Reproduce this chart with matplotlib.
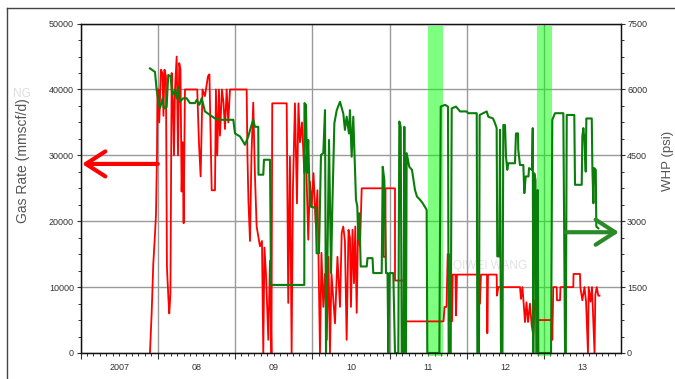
import matplotlib
matplotlib.use("Agg")
import matplotlib.pyplot as plt
import matplotlib.transforms as mtransforms
from matplotlib.lines import Line2D
from matplotlib.ticker import MultipleLocator, NullFormatter

# gas rate trace (decimal year, mmscf/d)
gas_years = [
    2007.899, 2007.921, 2007.942, 2007.964, 2007.977, 2007.990, 2007.996, 2008.009,
    2008.019, 2008.032, 2008.041, 2008.061, 2008.074, 2008.087, 2008.106, 2008.119,
    2008.139, 2008.149, 2008.164, 2008.180, 2008.197, 2008.210, 2008.223, 2008.245,
    2008.262, 2008.278, 2008.294, 2008.309, 2008.322, 2008.335, 2008.352, 2008.511,
    2008.533, 2008.555, 2008.579, 2008.611, 2008.650, 2008.669, 2008.698, 2008.741,
    2008.753, 2008.770, 2008.792, 2008.805, 2008.831, 2008.851, 2008.870, 2008.892,
    2008.913, 2008.935, 2009.151, 2009.161, 2009.174, 2009.194, 2009.213, 2009.236,
    2009.258, 2009.280, 2009.323, 2009.349, 2009.366, 2009.381, 2009.401, 2009.431,
    2009.453, 2009.472, 2009.482, 2009.669, 2009.689, 2009.711, 2009.733, 2009.750,
    2009.776, 2009.802, 2009.821, 2009.841, 2009.867, 2009.897, 2009.919, 2009.948,
    2009.970, 2009.992, 2010.016, 2010.044, 2010.067, 2010.100, 2010.119, 2010.143,
    2010.165, 2010.187, 2010.210, 2010.229, 2010.249, 2010.294, 2010.326, 2010.359,
    2010.381, 2010.401, 2010.423, 2010.445, 2010.469, 2010.488, 2010.501, 2010.521,
    2010.540, 2010.557, 2010.575, 2010.592, 2010.618, 2010.640, 2010.919, 2010.919,
    2010.948, 2010.948, 2011.071, 2011.071, 2011.200, 2011.200, 2011.699, 2011.712,
    2011.738, 2011.753, 2011.770, 2011.770, 2011.809, 2011.818, 2011.854, 2011.861,
    2011.873, 2012.158, 2012.171, 2012.184, 2012.262, 2012.266, 2012.275, 2012.387,
    2012.391, 2012.408, 2012.689, 2012.702, 2012.721, 2012.754, 2012.773, 2012.793,
    2012.818, 2012.840, 2012.861, 2012.883, 2012.922, 2013.103, 2013.107, 2013.120,
    2013.164, 2013.168, 2013.207, 2013.213, 2013.379, 2013.382, 2013.466, 2013.470,
    2013.496, 2013.524, 2013.544, 2013.569, 2013.578, 2013.602, 2013.621, 2013.654,
    2013.664, 2013.682, 2013.703, 2013.718,
]
gas_rate = [
    0, 6000, 13500, 18000, 21000, 30000, 40000, 40000,
    35000, 40000, 43000, 42500, 36000, 43000, 42000, 13000,
    8000, 6000, 9000, 42500, 38000, 30000, 40000, 45000,
    30000, 44000, 43000, 24500, 32000, 19700, 40000, 40000,
    32000, 26800, 40000, 39000, 42000, 42300, 24700, 24700,
    40000, 30000, 40000, 33000, 40000, 38000, 34000, 40000,
    35000, 40000, 40000, 30000, 23000, 17000, 30000, 38000,
    27000, 19200, 16200, 17000, 0, 16000, 12000, 2000,
    14000, 0, 37900, 37900, 7600, 29800, 0, 25000,
    37900, 22700, 37900, 32000, 35000, 27300, 30000, 17200,
    26000, 22200, 27300, 19700, 24700, 0, 15200, 7000,
    12000, 2000, 14600, 0, 12000, 4500, 14600, 7000,
    18200, 19200, 17000, 2000, 18700, 17500, 7000, 18700,
    10600, 19200, 6100, 18000, 16200, 25000, 25000, 14600,
    14600, 25000, 25000, 11000, 11000, 4800, 4800, 7000,
    7000, 15000, 15000, 4800, 4800, 11900, 11900, 5700,
    11900, 11900, 7500, 11900, 11900, 3000, 11900, 11900,
    8700, 10000, 10000, 8200, 10000, 4700, 7700, 4700,
    7500, 4200, 2700, 8000, 5000, 5000, 2000, 10000,
    10000, 8000, 8000, 10000, 10000, 12000, 12000, 10000,
    8000, 10000, 7800, 0, 10000, 7800, 10000, 0,
    8800, 10000, 8700, 8700,
]

# wellhead pressure trace (decimal year, psi)
whp_years = [
    2007.899, 2007.964, 2007.986, 2008.006, 2008.028, 2008.063, 2008.080, 2008.115,
    2008.136, 2008.167, 2008.188, 2008.223, 2008.245, 2008.265, 2008.287, 2008.330,
    2008.374, 2008.417, 2008.482, 2008.504, 2008.538, 2008.569, 2008.611, 2008.676,
    2008.741, 2008.784, 2008.978, 2009.000, 2009.065, 2009.129, 2009.172, 2009.207,
    2009.236, 2009.258, 2009.301, 2009.304, 2009.366, 2009.375, 2009.453, 2009.466,
    2009.897, 2009.899, 2009.919, 2009.932, 2009.948, 2009.970, 2010.044, 2010.057,
    2010.087, 2010.113, 2010.143, 2010.165, 2010.178, 2010.200, 2010.217, 2010.243,
    2010.260, 2010.286, 2010.317, 2010.359, 2010.402, 2010.423, 2010.445, 2010.475,
    2010.488, 2010.510, 2010.531, 2010.549, 2010.566, 2010.583, 2010.596, 2010.609,
    2010.627, 2010.705, 2010.715, 2010.780, 2010.790, 2010.899, 2010.912, 2010.933,
    2010.955, 2010.974, 2010.985, 2011.000, 2011.049, 2011.071, 2011.114, 2011.127,
    2011.145, 2011.158, 2011.181, 2011.192, 2011.200, 2011.213, 2011.222, 2011.256,
    2011.291, 2011.330, 2011.356, 2011.395, 2011.430, 2011.481, 2011.489, 2011.645,
    2011.663, 2011.718, 2011.757, 2011.766, 2011.792, 2011.805, 2011.861, 2011.913,
    2011.999, 2012.016, 2012.129, 2012.137, 2012.158, 2012.167, 2012.258, 2012.279,
    2012.340, 2012.366, 2012.387, 2012.395, 2012.421, 2012.430, 2012.443, 2012.462,
    2012.473, 2012.495, 2012.508, 2012.524, 2012.537, 2012.624, 2012.637, 2012.663,
    2012.667, 2012.689, 2012.732, 2012.745, 2012.763, 2012.799, 2012.806, 2012.845,
    2012.854, 2012.861, 2012.874, 2012.890, 2012.900, 2012.918, 2012.926, 2013.091,
    2013.107, 2013.142, 2013.250, 2013.272, 2013.282, 2013.294, 2013.392, 2013.401,
    2013.488, 2013.496, 2013.509, 2013.522, 2013.540, 2013.548, 2013.618, 2013.626,
    2013.639, 2013.648, 2013.670, 2013.677, 2013.703,
]
whp_psi = [
    6480, 6400, 5990, 5760, 5570, 5800, 5570, 5600,
    6330, 6300, 5870, 5990, 5800, 6060, 5720, 5800,
    5800, 5690, 5690, 5760, 5650, 5800, 5500, 5420,
    5340, 5310, 5310, 5000, 4930, 4740, 4930, 5150,
    5310, 5150, 5150, 4060, 4060, 4400, 4400, 1550,
    1550, 5690, 5650, 4100, 4850, 3340, 3300, 2270,
    2270, 4510, 4550, 5530, 0, 2580, 4850, 1820,
    3340, 5230, 5530, 5720, 5450, 5080, 5380, 5000,
    5530, 4470, 5380, 4400, 3490, 3340, 2580, 3180,
    1970, 1970, 2160, 2160, 1820, 1820, 4240, 3940,
    1820, 1820, 0, 1820, 1820, 0, 0, 5270,
    5150, 0, 0, 5150, 0, 0, 4550, 4240,
    4170, 3710, 3560, 3490, 3410, 3260, 0, 0,
    5610, 5650, 5610, 0, 0, 5570, 5610, 5500,
    5500, 5460, 5460, 0, 0, 5420, 5500, 5380,
    5340, 5230, 5120, 2200, 2200, 5080, 0, 0,
    5190, 5190, 4470, 4170, 4320, 4320, 5000, 5000,
    4620, 4280, 4280, 3640, 4020, 4020, 4210, 4170,
    5120, 0, 4090, 3940, 0, 3710, 0, 0,
    5310, 5460, 5460, 0, 0, 5420, 5420, 3830,
    3830, 4930, 5120, 4890, 4130, 5340, 5340, 4210,
    3410, 4210, 4170, 2880, 2840,
]

# highlighted periods (start, end in decimal years)
highlight_periods = [(2011.494, 2011.696), (2012.905, 2013.099)]

year_ticks = [2007, 2008, 2009, 2010, 2011, 2012, 2013]
year_labels = ["2007", "08", "09", "10", "11", "12", "13"]

plt.rcParams["font.family"] = ["Liberation Sans", "DejaVu Sans"]

fig = plt.figure(figsize=(6.75, 3.79), dpi=100)
ax = fig.add_axes([80.5 / 675, 26 / 379, 540 / 675, 329.4 / 379])
ax2 = ax.twinx()

for start, end in highlight_periods:
    ax.axvspan(start, end, ymin=-0.01, ymax=0.993, color="#00ff00", alpha=0.5,
               lw=0, zorder=1, clip_on=False)

ax.plot(gas_years, gas_rate, color="#ff0000", lw=1.3, zorder=2)
ax2.plot(whp_years, whp_psi, color="#0b7d0b", lw=1.5, zorder=2)

ax.set_xlim(2007.0, 2013.99)
ax.set_ylim(0, 50000)
ax2.set_ylim(0, 7500)

ax.xaxis.set_major_locator(MultipleLocator(1))
ax.xaxis.set_minor_locator(MultipleLocator(1 / 12))
ax.xaxis.set_major_formatter(NullFormatter())
ax.yaxis.set_major_locator(MultipleLocator(10000))
ax.yaxis.set_minor_locator(MultipleLocator(2500))
ax2.yaxis.set_major_locator(MultipleLocator(1500))
ax2.yaxis.set_minor_locator(MultipleLocator(375))

ax.set_axisbelow(True)
ax.grid(True, which="major", color="#9a9a9a", lw=1.0)

tick_col = "#333333"
ax.tick_params(axis="x", which="major", length=4.5, width=0.8, color=tick_col)
ax.tick_params(axis="x", which="minor", length=2.2, width=0.7, color=tick_col)
ax.tick_params(axis="y", which="major", length=3.2, width=0.8, color=tick_col,
               labelsize=6.5, labelcolor=tick_col, pad=1.5)
ax.tick_params(axis="y", which="minor", length=2.2, width=0.7, color=tick_col)
ax2.tick_params(axis="y", which="major", length=3.2, width=0.8, color=tick_col,
                labelsize=6.5, labelcolor=tick_col, pad=1.5)
ax2.tick_params(axis="y", which="minor", length=2.2, width=0.7, color=tick_col)

for a in (ax, ax2):
    for side in a.spines.values():
        side.set_color("#111111")
        side.set_linewidth(0.9)

# year labels sit in the middle of each year
trans = mtransforms.blended_transform_factory(ax.transData, ax.transAxes)
for yr, lab in zip(year_ticks, year_labels):
    ax.text(yr + 0.5, -0.045, lab, transform=trans, ha="center", va="center",
            fontsize=6.5, color=tick_col)

ax.set_ylabel("Gas Rate (mmscf/d)", fontsize=10, color="#555555")
ax.yaxis.set_label_coords(-0.093, 0.583)
ax2.set_ylabel("WHP (psi)", fontsize=9.5, color="#555555")
ax2.yaxis.set_label_coords(1.077, 0.583)

# arrows pointing at the axis that belongs to each curve
ax.annotate("", xy=(2007.02, 28700), xytext=(2008.0, 28700),
            arrowprops=dict(arrowstyle="->,head_length=0.7,head_width=0.45",
                            color="#ff0000", lw=3, shrinkA=0, shrinkB=0,
                            mutation_scale=20))
ax2.annotate("", xy=(2013.97, 2750), xytext=(2013.28, 2750),
             arrowprops=dict(arrowstyle="->,head_length=0.7,head_width=0.45",
                             color="#2a8a2a", lw=3, shrinkA=0, shrinkB=0,
                             mutation_scale=20))

# faint watermarks
ax.text(0.758, 0.264, "QIWEI WANG", transform=ax.transAxes, ha="center",
        va="center", fontsize=8.5, color="#e2e2e2", zorder=0)
fig.text(21.5 / 675, 1 - 94 / 379, "NG", ha="center", va="center",
         fontsize=8.5, color="#dddddd")

# outer frame of the exported picture
fig.add_artist(Line2D([7 / 675, 1.0], [1 - 8 / 379, 1 - 8 / 379], color="#444444", lw=1))
fig.add_artist(Line2D([7 / 675, 7 / 675], [0, 1 - 8 / 379], color="#444444", lw=1))

fig.savefig("out.png", dpi=100)
